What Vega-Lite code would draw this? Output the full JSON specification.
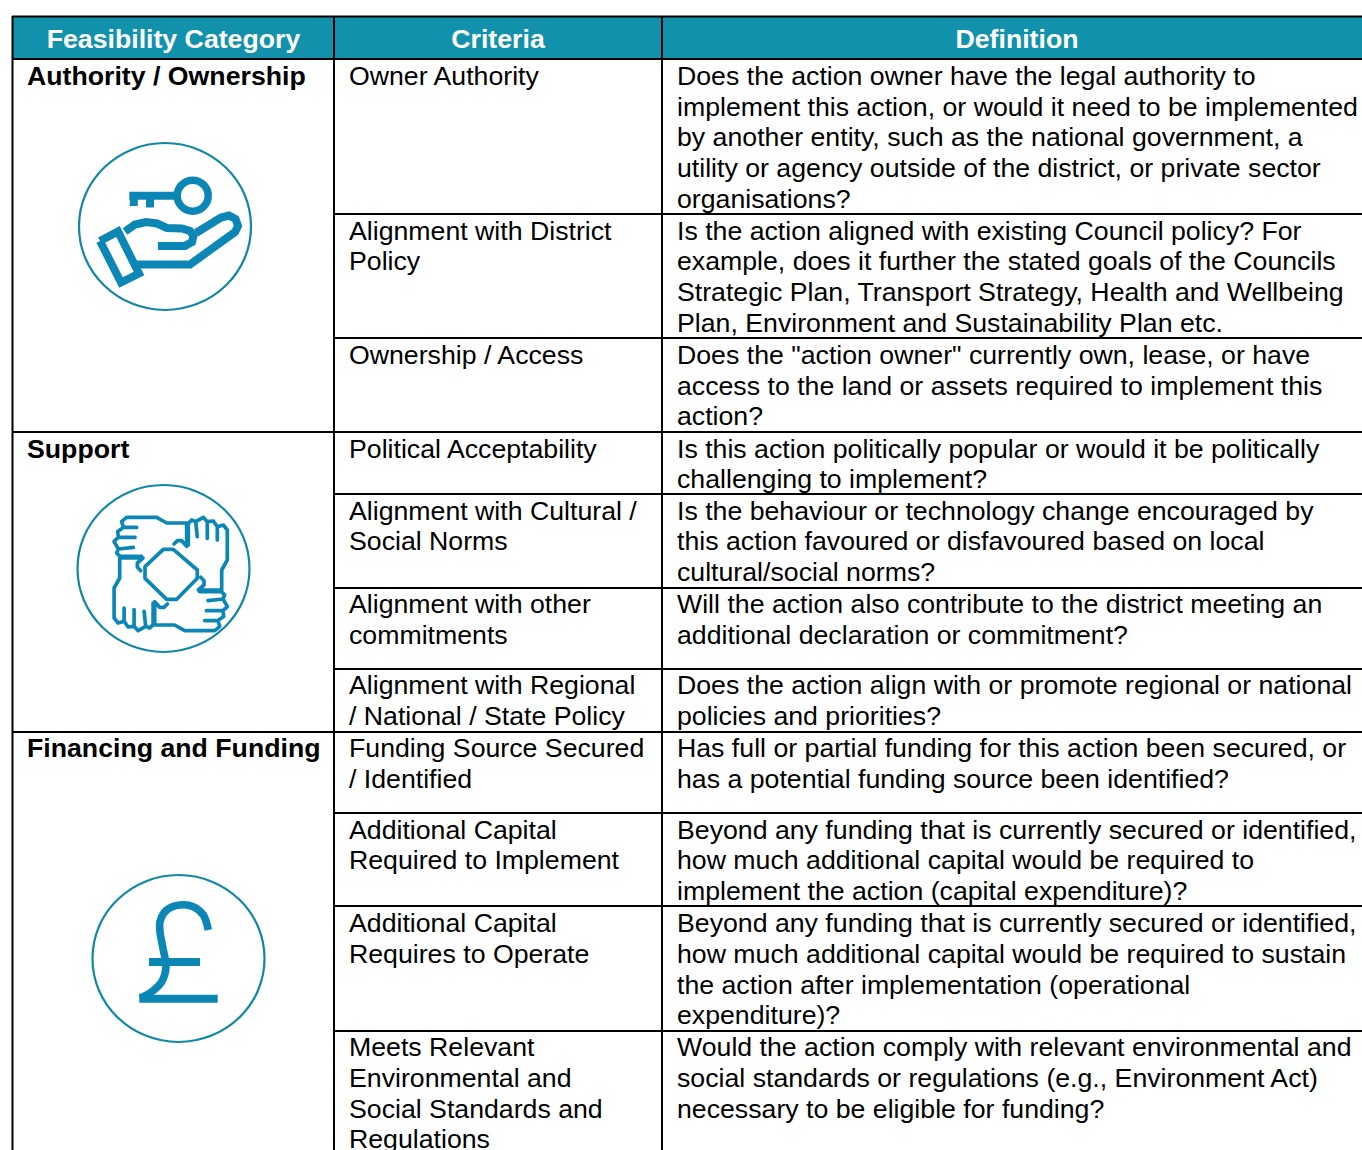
{
"$schema":"https://vega.github.io/schema/vega-lite/v6.json",
"width":1362,"height":1150,"padding":0,"autosize":{"type":"none"},"background":"white",
"config":{"view":{"stroke":null}},
"datasets":{
"grid":[
{"name":"left","x":12.5,"x2":12.5,"y":16,"y2":1150,"w":"major"},
{"name":"col1","x":334,"x2":334,"y":16,"y2":1150,"w":"major"},
{"name":"col2","x":662,"x2":662,"y":16,"y2":1150,"w":"major"},
{"name":"top","x":12,"x2":1362,"y":16.5,"y2":16.5,"w":"major"},
{"name":"head","x":12,"x2":1362,"y":59,"y2":59,"w":"major"},
{"name":"r1","x":334,"x2":1362,"y":214,"y2":214,"w":"major"},
{"name":"r2","x":334,"x2":1362,"y":338,"y2":338,"w":"major"},
{"name":"r3","x":12,"x2":1362,"y":432,"y2":432,"w":"major"},
{"name":"r4","x":334,"x2":1362,"y":494,"y2":494,"w":"major"},
{"name":"r5","x":334,"x2":1362,"y":588,"y2":588,"w":"major"},
{"name":"r6","x":334,"x2":1362,"y":669,"y2":669,"w":"major"},
{"name":"r7","x":12,"x2":1362,"y":732,"y2":732,"w":"major"},
{"name":"r8","x":334,"x2":1362,"y":813,"y2":813,"w":"major"},
{"name":"r9","x":334,"x2":1362,"y":906,"y2":906,"w":"major"},
{"name":"r10","x":334,"x2":1362,"y":1031,"y2":1031,"w":"major"}
],
"text":[
{"k":"h","x":173.5,"y":48,"t":"Feasibility Category"},
{"k":"h","x":498,"y":48,"t":"Criteria"},
{"k":"h","x":1017,"y":48,"t":"Definition"},
{"k":"c","x":27,"y":85,"t":"Authority / Ownership"},
{"k":"c","x":27,"y":458,"t":"Support"},
{"k":"c","x":27,"y":757,"t":"Financing and Funding"},
{"k":"b","x":349,"y":85,"t":"Owner Authority"},
{"k":"b","x":677,"y":85,"t":"Does the action owner have the legal authority to"},
{"k":"b","x":677,"y":116,"t":"implement this action, or would it need to be implemented"},
{"k":"b","x":677,"y":146,"t":"by another entity, such as the national government, a"},
{"k":"b","x":677,"y":177,"t":"utility or agency outside of the district, or private sector"},
{"k":"b","x":677,"y":208,"t":"organisations?"},
{"k":"b","x":349,"y":240,"t":"Alignment with District"},
{"k":"b","x":349,"y":270,"t":"Policy"},
{"k":"b","x":677,"y":240,"t":"Is the action aligned with existing Council policy? For"},
{"k":"b","x":677,"y":270,"t":"example, does it further the stated goals of the Councils"},
{"k":"b","x":677,"y":301,"t":"Strategic Plan, Transport Strategy, Health and Wellbeing"},
{"k":"b","x":677,"y":332,"t":"Plan, Environment and Sustainability Plan etc."},
{"k":"b","x":349,"y":364,"t":"Ownership / Access"},
{"k":"b","x":677,"y":364,"t":"Does the \"action owner\" currently own, lease, or have"},
{"k":"b","x":677,"y":395,"t":"access to the land or assets required to implement this"},
{"k":"b","x":677,"y":425,"t":"action?"},
{"k":"b","x":349,"y":458,"t":"Political Acceptability"},
{"k":"b","x":677,"y":458,"t":"Is this action politically popular or would it be politically"},
{"k":"b","x":677,"y":488,"t":"challenging to implement?"},
{"k":"b","x":349,"y":520,"t":"Alignment with Cultural /"},
{"k":"b","x":349,"y":550,"t":"Social Norms"},
{"k":"b","x":677,"y":520,"t":"Is the behaviour or technology change encouraged by"},
{"k":"b","x":677,"y":550,"t":"this action favoured or disfavoured based on local"},
{"k":"b","x":677,"y":581,"t":"cultural/social norms?"},
{"k":"b","x":349,"y":613,"t":"Alignment with other"},
{"k":"b","x":349,"y":644,"t":"commitments"},
{"k":"b","x":677,"y":613,"t":"Will the action also contribute to the district meeting an"},
{"k":"b","x":677,"y":644,"t":"additional declaration or commitment?"},
{"k":"b","x":349,"y":694,"t":"Alignment with Regional"},
{"k":"b","x":349,"y":725,"t":"/ National / State Policy"},
{"k":"b","x":677,"y":694,"t":"Does the action align with or promote regional or national"},
{"k":"b","x":677,"y":725,"t":"policies and priorities?"},
{"k":"b","x":349,"y":757,"t":"Funding Source Secured"},
{"k":"b","x":349,"y":788,"t":"/ Identified"},
{"k":"b","x":677,"y":757,"t":"Has full or partial funding for this action been secured, or"},
{"k":"b","x":677,"y":788,"t":"has a potential funding source been identified?"},
{"k":"b","x":349,"y":839,"t":"Additional Capital"},
{"k":"b","x":349,"y":869,"t":"Required to Implement"},
{"k":"b","x":677,"y":839,"t":"Beyond any funding that is currently secured or identified,"},
{"k":"b","x":677,"y":869,"t":"how much additional capital would be required to"},
{"k":"b","x":677,"y":900,"t":"implement the action (capital expenditure)?"},
{"k":"b","x":349,"y":932,"t":"Additional Capital"},
{"k":"b","x":349,"y":963,"t":"Requires to Operate"},
{"k":"b","x":677,"y":932,"t":"Beyond any funding that is currently secured or identified,"},
{"k":"b","x":677,"y":963,"t":"how much additional capital would be required to sustain"},
{"k":"b","x":677,"y":994,"t":"the action after implementation (operational"},
{"k":"b","x":677,"y":1024,"t":"expenditure)?"},
{"k":"b","x":349,"y":1056,"t":"Meets Relevant"},
{"k":"b","x":349,"y":1087,"t":"Environmental and"},
{"k":"b","x":349,"y":1118,"t":"Social Standards and"},
{"k":"b","x":349,"y":1148,"t":"Regulations"},
{"k":"b","x":677,"y":1056,"t":"Would the action comply with relevant environmental and"},
{"k":"b","x":677,"y":1087,"t":"social standards or regulations (e.g., Environment Act)"},
{"k":"b","x":677,"y":1118,"t":"necessary to be eligible for funding?"}
],
"rings":[
{"p":"a","x":251,"y":226.5},{"p":"a","x":244.5,"y":258.5},{"p":"a","x":225.8,"y":285.5},{"p":"a","x":197.9,"y":303.6},{"p":"a","x":165,"y":310},{"p":"a","x":132.1,"y":303.6},{"p":"a","x":104.2,"y":285.5},{"p":"a","x":85.5,"y":258.5},{"p":"a","x":79,"y":226.5},{"p":"a","x":85.5,"y":194.5},{"p":"a","x":104.2,"y":167.5},{"p":"a","x":132.1,"y":149.4},{"p":"a","x":165,"y":143},{"p":"a","x":197.9,"y":149.4},{"p":"a","x":225.8,"y":167.5},{"p":"a","x":244.5,"y":194.5},
{"p":"b","x":249.5,"y":568.5},{"p":"b","x":243,"y":600.5},{"p":"b","x":224.3,"y":627.5},{"p":"b","x":196.4,"y":645.6},{"p":"b","x":163.5,"y":652},{"p":"b","x":130.6,"y":645.6},{"p":"b","x":102.7,"y":627.5},{"p":"b","x":84,"y":600.5},{"p":"b","x":77.5,"y":568.5},{"p":"b","x":84,"y":536.5},{"p":"b","x":102.7,"y":509.5},{"p":"b","x":130.6,"y":491.4},{"p":"b","x":163.5,"y":485},{"p":"b","x":196.4,"y":491.4},{"p":"b","x":224.3,"y":509.5},{"p":"b","x":243,"y":536.5},
{"p":"c","x":264.5,"y":958.5},{"p":"c","x":258,"y":990.5},{"p":"c","x":239.3,"y":1017.5},{"p":"c","x":211.4,"y":1035.6},{"p":"c","x":178.5,"y":1042},{"p":"c","x":145.6,"y":1035.6},{"p":"c","x":117.7,"y":1017.5},{"p":"c","x":99,"y":990.5},{"p":"c","x":92.5,"y":958.5},{"p":"c","x":99,"y":926.5},{"p":"c","x":117.7,"y":899.5},{"p":"c","x":145.6,"y":881.4},{"p":"c","x":178.5,"y":875},{"p":"c","x":211.4,"y":881.4},{"p":"c","x":239.3,"y":899.5},{"p":"c","x":258,"y":926.5}
],
"keyring":[{"x":192.7,"y":195.7}],
"heavy":[
{"p":"shaft","x":129.3,"y":195.8},{"p":"shaft","x":180,"y":195.8},
{"p":"tooth1","x":133.8,"y":195.8},{"p":"tooth1","x":133.8,"y":206},
{"p":"tooth2","x":150,"y":195.8},{"p":"tooth2","x":150,"y":207.5},
{"p":"cuff","x":100,"y":241},{"p":"cuff","x":118,"y":231.5},{"p":"cuff","x":139,"y":273.5},{"p":"cuff","x":121,"y":282.5},{"p":"cuff","x":100,"y":241},
{"p":"palm","x":125,"y":231.5},{"p":"palm","x":135,"y":224.5},{"p":"palm","x":146,"y":222},{"p":"palm","x":157,"y":223.5},{"p":"palm","x":167,"y":228},{"p":"palm","x":182,"y":228.5},{"p":"palm","x":190,"y":231},{"p":"palm","x":193.5,"y":236},{"p":"palm","x":192,"y":242},{"p":"palm","x":185,"y":246},{"p":"palm","x":158,"y":246},
{"p":"back","x":196,"y":233},{"p":"back","x":221,"y":217.5},{"p":"back","x":229,"y":215.5},{"p":"back","x":235.5,"y":219},{"p":"back","x":238,"y":226},{"p":"back","x":235,"y":232},{"p":"back","x":190,"y":264.5},{"p":"back","x":134,"y":264.5},
{"p":"bar1","x":149,"y":962},{"p":"bar1","x":200,"y":962},
{"p":"bar2","x":139.3,"y":998.8},{"p":"bar2","x":217.7,"y":998.8}
],
"pound":[
{"x":208.3,"y":930},{"x":203.3,"y":915},{"x":193.3,"y":906.7},{"x":180,"y":905},{"x":166.7,"y":910},{"x":160,"y":921.7},{"x":160,"y":931.7},{"x":163.3,"y":950},{"x":166,"y":966.7},{"x":161.7,"y":981.7},{"x":151.7,"y":991.7},{"x":140,"y":998}
],
"hands":[
{"p":"octagon","x":145,"y":566.7},{"p":"octagon","x":163.3,"y":549.3},{"p":"octagon","x":173.3,"y":549.3},{"p":"octagon","x":197.3,"y":570},{"p":"octagon","x":197.3,"y":578.3},{"p":"octagon","x":176.7,"y":599.3},{"p":"octagon","x":166.7,"y":599.3},{"p":"octagon","x":145,"y":578.3},{"p":"octagon","x":145,"y":566.7},
{"p":"tr","x":188.3,"y":545},{"p":"tr","x":188.3,"y":523.3},{"p":"tr","x":191.7,"y":520},{"p":"tr","x":195.7,"y":521.7},{"p":"tr","x":197.3,"y":536.7},{"p":"tr","x":195.7,"y":521.7},{"p":"tr","x":203.3,"y":517.3},{"p":"tr","x":207.3,"y":521.7},{"p":"tr","x":207.3,"y":538.3},{"p":"tr","x":207.3,"y":521.7},{"p":"tr","x":213.3,"y":521},{"p":"tr","x":217.3,"y":526.7},{"p":"tr","x":217.3,"y":540},{"p":"tr","x":217.3,"y":526.7},{"p":"tr","x":223.3,"y":525},{"p":"tr","x":227.3,"y":530},{"p":"tr","x":227.3,"y":560},{"p":"tr","x":221.7,"y":570},{"p":"tr","x":221.7,"y":590},{"p":"tr","x":198.4,"y":590},{"p":"tr","x":204,"y":585},{"p":"tr","x":204,"y":580.7},{"p":"tr","x":200.7,"y":577.3},
{"p":"br","x":199.7,"y":591.6},{"p":"br","x":221.4,"y":591.6},{"p":"br","x":224.7,"y":595},{"p":"br","x":223,"y":599},{"p":"br","x":208,"y":600.6},{"p":"br","x":223,"y":599},{"p":"br","x":227.4,"y":606.6},{"p":"br","x":223,"y":610.6},{"p":"br","x":206.4,"y":610.6},{"p":"br","x":223,"y":610.6},{"p":"br","x":223.7,"y":616.6},{"p":"br","x":218,"y":620.6},{"p":"br","x":204.7,"y":620.6},{"p":"br","x":218,"y":620.6},{"p":"br","x":219.7,"y":626.6},{"p":"br","x":214.7,"y":630.6},{"p":"br","x":184.7,"y":630.6},{"p":"br","x":174.7,"y":625},{"p":"br","x":154.7,"y":625},{"p":"br","x":154.7,"y":601.7},{"p":"br","x":159.7,"y":607.3},{"p":"br","x":164,"y":607.3},{"p":"br","x":167.4,"y":604},
{"p":"bl","x":153.1,"y":603},{"p":"bl","x":153.1,"y":624.7},{"p":"bl","x":149.7,"y":628},{"p":"bl","x":145.7,"y":626.3},{"p":"bl","x":144.1,"y":611.3},{"p":"bl","x":145.7,"y":626.3},{"p":"bl","x":138.1,"y":630.7},{"p":"bl","x":134.1,"y":626.3},{"p":"bl","x":134.1,"y":609.7},{"p":"bl","x":134.1,"y":626.3},{"p":"bl","x":128.1,"y":627},{"p":"bl","x":124.1,"y":621.3},{"p":"bl","x":124.1,"y":608},{"p":"bl","x":124.1,"y":621.3},{"p":"bl","x":118.1,"y":623},{"p":"bl","x":114.1,"y":618},{"p":"bl","x":114.1,"y":588},{"p":"bl","x":119.7,"y":578},{"p":"bl","x":119.7,"y":558},{"p":"bl","x":143,"y":558},{"p":"bl","x":137.4,"y":563},{"p":"bl","x":137.4,"y":567.3},{"p":"bl","x":140.7,"y":570.7},
{"p":"tl","x":141.7,"y":556.4},{"p":"tl","x":120,"y":556.4},{"p":"tl","x":116.7,"y":553},{"p":"tl","x":118.4,"y":549},{"p":"tl","x":133.4,"y":547.4},{"p":"tl","x":118.4,"y":549},{"p":"tl","x":114,"y":541.4},{"p":"tl","x":118.4,"y":537.4},{"p":"tl","x":135,"y":537.4},{"p":"tl","x":118.4,"y":537.4},{"p":"tl","x":117.7,"y":531.4},{"p":"tl","x":123.4,"y":527.4},{"p":"tl","x":136.7,"y":527.4},{"p":"tl","x":123.4,"y":527.4},{"p":"tl","x":121.7,"y":521.4},{"p":"tl","x":126.7,"y":517.4},{"p":"tl","x":156.7,"y":517.4},{"p":"tl","x":166.7,"y":523},{"p":"tl","x":186.7,"y":523},{"p":"tl","x":186.7,"y":546.3},{"p":"tl","x":181.7,"y":540.7},{"p":"tl","x":177.4,"y":540.7},{"p":"tl","x":174,"y":544}
]
},
"encoding":{
"x":{"field":"x","type":"quantitative","scale":{"domain":[0,1362],"range":[0,1362],"nice":false,"zero":false},"axis":null},
"y":{"field":"y","type":"quantitative","scale":{"domain":[0,1150],"range":[0,1150],"nice":false,"zero":false},"axis":null}
},
"layer":[
{"data":{"values":[{"x":12,"x2":1362,"y":16,"y2":59}]},"mark":{"type":"rect","color":"#1191AB"},"encoding":{"x2":{"field":"x2"},"y2":{"field":"y2"}}},
{"data":{"name":"grid"},"mark":{"type":"rule","color":"#000000","strokeWidth":2},"encoding":{"x2":{"field":"x2"},"y2":{"field":"y2"}}},
{"data":{"name":"text"},"transform":[{"filter":"datum.k==='h'"}],"mark":{"type":"text","font":"Liberation Sans","fontWeight":"bold","fontSize":26.7,"color":"#ffffff","align":"center","baseline":"alphabetic"},"encoding":{"text":{"field":"t"}}},
{"data":{"name":"text"},"transform":[{"filter":"datum.k==='c'"}],"mark":{"type":"text","font":"Liberation Sans","fontWeight":"bold","fontSize":26.7,"color":"#000000","align":"left","baseline":"alphabetic"},"encoding":{"text":{"field":"t"}}},
{"data":{"name":"text"},"transform":[{"filter":"datum.k==='b'"}],"mark":{"type":"text","font":"Liberation Sans","fontSize":26.7,"color":"#000000","align":"left","baseline":"alphabetic"},"encoding":{"text":{"field":"t"}}},
{"data":{"name":"rings"},"mark":{"type":"line","interpolate":"cardinal-closed","tension":0,"stroke":"#1187A6","strokeWidth":2.2},"encoding":{"detail":{"field":"p"},"order":{"value":null}}},
{"data":{"name":"keyring"},"mark":{"type":"point","shape":"circle","filled":false,"size":961,"stroke":"#0C87B5","strokeWidth":7.5,"opacity":1}},
{"data":{"name":"heavy"},"mark":{"type":"line","stroke":"#0C87B5","strokeWidth":8,"strokeJoin":"miter","strokeCap":"butt"},"encoding":{"detail":{"field":"p"},"order":{"value":null}}},
{"data":{"name":"pound"},"mark":{"type":"line","stroke":"#0C87B5","strokeWidth":7.6,"interpolate":"catmull-rom","strokeCap":"butt"},"encoding":{"order":{"value":null}}},
{"data":{"name":"hands"},"mark":{"type":"line","stroke":"#0C87B5","strokeWidth":3.7,"strokeJoin":"round","strokeCap":"round"},"encoding":{"detail":{"field":"p"},"order":{"value":null}}}
]
}
